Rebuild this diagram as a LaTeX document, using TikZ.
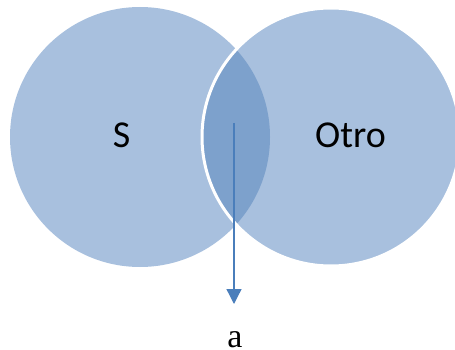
\documentclass[tikz,border=0pt]{standalone}
\usepackage{fontspec}
\setmainfont{Liberation Serif}
\newfontfamily\labelfont{Carlito}
\usetikzlibrary{arrows.meta}
\definecolor{setfill}{HTML}{A8C0DE}
\definecolor{lensfill}{HTML}{7DA1CC}
\definecolor{arrowblue}{HTML}{4A7EBB}
\tikzset{
  setlabel/.style={font=\labelfont\fontsize{38}{44}\selectfont, text=black, inner sep=0pt},
  elemlabel/.style={font=\fontsize{34}{38}\selectfont, text=black, inner sep=0pt},
  pointer/.style={draw=arrowblue, line width=1.3pt,
    -{Triangle[width=15pt,length=15pt,fill=arrowblue]}}
}
\begin{document}
\begin{tikzpicture}[x=1pt,y=-1pt]
  \useasboundingbox (0,0) rectangle (455,350);
  % the two sets
  \fill[setfill] (140,137) circle[radius=130];
  \fill[setfill] (331,137) circle[radius=129];
  % their intersection
  \begin{scope}
    \clip (331,137) circle[radius=129];
    \fill[lensfill] (140,137) circle[radius=130];
  \end{scope}
  % white rim of the second set
  \draw[white, line width=3pt] (331,137) circle[radius=129];
  % labels
  \node[setlabel] (s) at (121.5,135) {S};
  \node[setlabel] (otro) at (350.5,135) {Otro};
  \node[elemlabel] (a) at (235,340) {a};
  \coordinate (start) at (234,123);
  \coordinate (tip) at (234,304);
  \draw[pointer] (start) -- (tip);
\end{tikzpicture}
\end{document}
